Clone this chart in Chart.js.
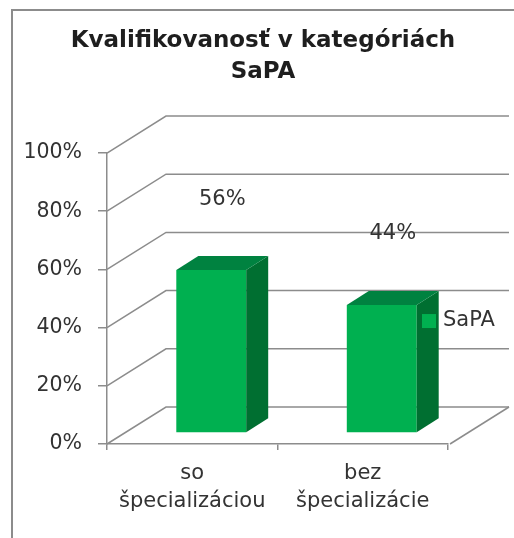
<!DOCTYPE html>
<html>
<head>
<meta charset="utf-8">
<script src="https://cdn.jsdelivr.net/npm/chart.js@4/dist/chart.umd.min.js"></script>
<style>
  html, body { margin: 0; padding: 0; background: #fff; }
</style>
</head>
<body>
<canvas id="sapaChart" width="514" height="538"></canvas>
<script>
// chart values
const titleLines = ["Kvalifikovanosť v kategóriách", "SaPA"];
const categories = [["so", "špecializáciou"], ["bez", "špecializácie"]];
const seriesName = "SaPA";
const values = [56, 44];
const yTickValues = [0, 20, 40, 60, 80, 100];

const GRID = "#8c8c8c";
const FRONT = "#00b050";
const SIDE = "#006f31";
const TOP = "#008240";
const FONT = "'DejaVu Sans', sans-serif";

// wall depth and bar depth (Excel style 3D)
const wallDx = 59, wallDy = -37;
const barDx = 22, barDy = -14;
const shiftX = 19, shiftY = -11;

const framePlugin = {
  id: "frame",
  beforeDraw(chart) {
    const ctx = chart.ctx;
    ctx.save();
    ctx.strokeStyle = GRID;
    ctx.lineWidth = 2;
    ctx.beginPath();
    ctx.moveTo(12, chart.height + 2);
    ctx.lineTo(12, 10);
    ctx.lineTo(chart.width + 2, 10);
    ctx.stroke();
    ctx.restore();
  }
};

const threeDPlugin = {
  id: "threeD",
  beforeDatasetsDraw(chart) {
    const ctx = chart.ctx;
    const area = chart.chartArea;
    const y = chart.scales.y;
    ctx.save();
    ctx.strokeStyle = GRID;
    ctx.lineWidth = 1.5;
    // side wall + back wall gridlines
    yTickValues.forEach(v => {
      const py = y.getPixelForValue(v);
      ctx.beginPath();
      ctx.moveTo(area.left, py);
      ctx.lineTo(area.left + wallDx, py + wallDy);
      ctx.lineTo(area.right + wallDx + 2, py + wallDy);
      ctx.stroke();
    });
    // floor right edge
    ctx.beginPath();
    ctx.moveTo(area.right + 2, area.bottom);
    ctx.lineTo(area.right + wallDx + 2, area.bottom + wallDy);
    ctx.stroke();
    ctx.restore();

    // front faces are drawn by Chart.js, moved into the middle of the depth
    ctx.save();
    ctx.translate(shiftX, shiftY);
  },
  afterDatasetsDraw(chart) {
    const ctx = chart.ctx;
    ctx.restore();
    const meta = chart.getDatasetMeta(0);
    ctx.save();
    meta.data.forEach((bar, i) => {
      const L = bar.x - bar.width / 2 + shiftX;
      const R = bar.x + bar.width / 2 + shiftX;
      const T = bar.y + shiftY;
      const B = bar.base + shiftY;
      // side face
      ctx.fillStyle = SIDE;
      ctx.beginPath();
      ctx.moveTo(R, T);
      ctx.lineTo(R + barDx, T + barDy);
      ctx.lineTo(R + barDx, B + barDy);
      ctx.lineTo(R, B);
      ctx.closePath();
      ctx.fill();
      // top face
      ctx.fillStyle = TOP;
      ctx.beginPath();
      ctx.moveTo(L, T);
      ctx.lineTo(L + barDx, T + barDy);
      ctx.lineTo(R + barDx, T + barDy);
      ctx.lineTo(R, T);
      ctx.closePath();
      ctx.fill();
      // value label
      ctx.fillStyle = "#333";
      ctx.font = "21px " + FONT;
      ctx.textAlign = "center";
      ctx.textBaseline = "middle";
      ctx.fillText(values[i] + "%", bar.x + shiftX + 11, T - 71);
    });

    // legend
    const area = chart.chartArea;
    const ly = area.top + 168;
    ctx.fillStyle = FRONT;
    ctx.fillRect(area.right - 26, ly - 7, 14, 14);
    ctx.fillStyle = "#333";
    ctx.font = "21px " + FONT;
    ctx.textAlign = "left";
    ctx.textBaseline = "middle";
    ctx.fillText(seriesName, area.right - 5, ly);
    ctx.restore();
  }
};

new Chart(document.getElementById("sapaChart"), {
  type: "bar",
  data: {
    labels: categories,
    datasets: [{
      label: seriesName,
      data: values,
      backgroundColor: FRONT,
      borderWidth: 0,
      categoryPercentage: 0.41,
      barPercentage: 1
    }]
  },
  options: {
    responsive: false,
    animation: false,
    layout: { padding: { left: 12, right: 0, top: 0, bottom: 0 } },
    plugins: {
      legend: { display: false },
      tooltip: { enabled: false },
      title: {
        display: true,
        text: titleLines,
        color: "#1e1e1e",
        font: { family: FONT, size: 23, weight: "bold", lineHeight: 1.34 },
        padding: { top: 26, bottom: 65.4 }
      }
    },
    scales: {
      x: {
        grid: { drawOnChartArea: false, drawTicks: true, tickLength: 6, color: GRID, lineWidth: 1.5 },
        border: { color: GRID, width: 1.5 },
        ticks: { color: "#333", padding: 9, font: { family: FONT, size: 21, lineHeight: 1.36 } },
        afterFit(scale) { scale.height = 94; }
      },
      y: {
        min: 0,
        max: 100,
        grid: { drawOnChartArea: false, drawTicks: true, tickLength: 9, color: GRID, lineWidth: 1.5 },
        border: { color: GRID, width: 1.5 },
        ticks: {
          stepSize: 20,
          padding: 16,
          color: "#333",
          font: { family: FONT, size: 20.5 },
          callback: v => v + "%"
        },
        afterFit(scale) { scale.width = 95; }
      },
      spacer: {
        position: "right",
        grid: { display: false },
        border: { display: false },
        ticks: { display: false },
        afterFit(scale) { scale.width = 66; }
      }
    }
  },
  plugins: [framePlugin, threeDPlugin]
});
</script>
</body>
</html>
